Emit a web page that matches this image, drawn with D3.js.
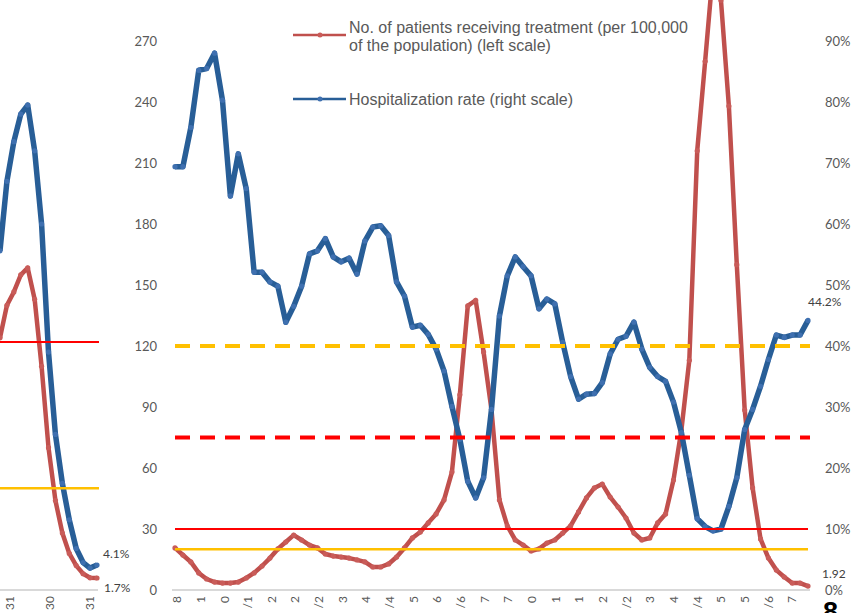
<!DOCTYPE html>
<html>
<head>
<meta charset="utf-8">
<script src="https://cdn.jsdelivr.net/npm/d3@7"></script>
<style>
  body { margin: 0; background: #fff; }
  svg { display: block; }
</style>
</head>
<body>
<svg></svg>
<script>
// chart data

// main period: no. of patients receiving treatment (per 100,000, left scale)
var patients = [20.7, 17.2, 13.8, 8.4, 5.4, 3.9, 3.4, 3.4, 3.9, 5.9,
      8.4, 11.8, 15.7, 20.2, 23.6, 27.0, 24.6, 22.1, 20.7, 17.7,
      16.7, 16.2, 15.7, 14.8, 13.8, 11.3, 11.3, 12.8, 16.2, 20.7,
      25.6, 28.5, 33.0, 37.4, 44.3, 58.0, 96.0, 139.7, 142.5, 117.0,
      88.5, 44.3, 31.5, 24.6, 22.1, 19.2, 20.2, 23.1, 24.6, 28.0,
      31.5, 38.4, 45.3, 50.2, 52.1, 45.7, 40.8, 35.4, 28.0, 24.6,
      25.6, 33.0, 37.4, 54.1, 78.7, 113.0, 216.0, 260.0, 305.0, 290.0,
      238.0, 160.0, 88.5, 50.2, 25.1, 15.7, 9.8, 6.4, 3.4, 3.4, 1.92];

// main period: hospitalization rate (%, right scale)
var hospRate = [69.4, 69.4, 75.8, 85.2, 85.5, 88.0, 80.3, 64.6, 71.5, 65.8,
      52.1, 52.1, 50.5, 49.8, 43.9, 46.5, 49.8, 55.1, 55.6, 57.6,
      54.6, 53.8, 54.4, 51.8, 57.2, 59.5, 59.7, 58.1, 50.5, 48.2,
      43.1, 43.4, 41.9, 39.5, 35.9, 30.1, 24.7, 17.8, 15.1, 18.4,
      29.6, 44.9, 51.5, 54.6, 53.0, 51.5, 46.1, 47.7, 46.9, 40.6,
      35.0, 31.3, 32.1, 32.2, 34.0, 38.7, 41.1, 41.6, 43.9, 39.5,
      36.5, 35.0, 34.2, 30.8, 25.8, 18.8, 11.7, 10.4, 9.7, 10.0,
      13.7, 18.4, 26.3, 29.6, 33.4, 37.8, 41.8, 41.4, 41.8, 41.8, 44.2];

// x tick labels (only the last characters are visible, the rest is cut off)
var xLabels = ["8", "1", "0", "/1", "2", "2", "/2", "3", "4", "/4", "5", "6", "/6", "7",
      "7", "0", "1", "1", "2", "/2", "3", "4", "/4", "5", "5", "/6", "7"];

// previous period, only its right end is visible on the left
var prevPatients = [124, 140, 146.6, 155, 158.4, 143, 110, 70, 44, 28, 18, 12, 8, 6, 5.9];
var prevHospRate = [55.6, 67, 73.5, 78, 79.5, 72, 60, 39, 25.5, 17.5, 11.5, 6.8, 4.5, 3.6, 4.1];
var prevLabels = ["31", "30", "31"];

// threshold lines (left scale units)
var mainSolid = [30, 20];      // red, yellow
var mainDashed = [120, 75];    // yellow, red
var prevSolid = [122, 50];     // red, yellow

var legendItems = [
      ["No. of patients receiving treatment (per 100,000", "of the population) (left scale)"],
      ["Hospitalization rate (right scale)"]
];

var width = 853;
var height = 613;
var font = "'Liberation Sans', Arial, sans-serif";
var tickFont = "Lato, 'Open Sans', sans-serif";
var redLine = "#c0504d", redDot = "#c95c59";
var blueLine = "#285e97", blueDot = "#3f70b0";

var svg = d3.select("svg")
      .attr("width", width)
      .attr("height", height);

var yLeft = d3.scaleLinear().domain([0, 270]).range([590, 41]);
var yRight = d3.scaleLinear().domain([0, 90]).range([590, 41]);
var x = d3.scaleLinear().domain([0, patients.length - 1]).range([175, 808]);
var xPrev = d3.scaleLinear().domain([0, prevPatients.length - 1]).range([0, 97]);
var xTick = d3.scalePoint().domain(d3.range(xLabels.length)).range([177, 792]);
var xPrevTick = d3.scalePoint().domain(d3.range(prevLabels.length)).range([10, 90]);

// baselines
svg.append("line").attr("x1", 0).attr("x2", 98)
      .attr("y1", yLeft(0)).attr("y2", yLeft(0))
      .attr("stroke", "#d9d9d9").attr("stroke-width", 2);
svg.append("line").attr("x1", 172).attr("x2", 810)
      .attr("y1", yLeft(0)).attr("y2", yLeft(0))
      .attr("stroke", "#d9d9d9").attr("stroke-width", 2);

// axes
var leftAxis = svg.append("g").attr("transform", "translate(160,0)")
      .call(d3.axisLeft(yLeft).tickValues(d3.range(0, 271, 30)).tickSize(0).tickPadding(3));
var rightAxis = svg.append("g").attr("transform", "translate(822,0)")
      .call(d3.axisRight(yRight).tickValues(d3.range(0, 91, 10)).tickSize(0).tickPadding(3)
            .tickFormat(d => d + "%"));
[leftAxis, rightAxis].forEach(function(g) {
      g.select(".domain").remove();
      g.selectAll("text")
            .style("font-family", tickFont)
            .style("font-size", "13px")
            .attr("fill", "#595959");
});

// rotated x labels, cut by the bottom of the picture
var drawXLabels = function(labels, scale) {
      svg.append("g").selectAll("text")
            .data(labels)
            .enter()
            .append("text")
                  .attr("transform", (d, i) => "translate(" + scale(i) + ",596) rotate(-90)")
                  .attr("dy", "0.35em")
                  .style("text-anchor", "end")
                  .style("font-family", tickFont)
                  .style("font-size", "12px")
                  .attr("fill", "#595959")
                  .text(d => d);
}
drawXLabels(xLabels, xTick);
drawXLabels(prevLabels, xPrevTick);

// series
var drawSeries = function(values, xs, ys, lineColor, dotColor, w) {
      var line = d3.line().x((d, i) => xs(i)).y(d => ys(d));
      svg.append("path")
            .datum(values)
            .attr("d", line)
            .attr("fill", "none")
            .attr("stroke", lineColor)
            .attr("stroke-width", w)
            .attr("stroke-linejoin", "round");
      svg.append("g")
            .selectAll("circle")
            .data(values)
            .enter()
            .append("circle")
                  .attr("r", 2.6)
                  .attr("cx", (d, i) => xs(i))
                  .attr("cy", d => ys(d))
                  .style("fill", dotColor);
}
drawSeries(prevPatients, xPrev, yLeft, redLine, redDot, 4.5);
drawSeries(prevHospRate, xPrev, yRight, blueLine, blueDot, 5.5);
drawSeries(patients, x, yLeft, redLine, redDot, 4.5);
drawSeries(hospRate, x, yRight, blueLine, blueDot, 5.5);

// threshold lines
var hLine = function(v, x1, x2, color, w, dash) {
      svg.append("line")
            .attr("x1", x1).attr("x2", x2)
            .attr("y1", yLeft(v)).attr("y2", yLeft(v))
            .attr("stroke", color)
            .attr("stroke-width", w)
            .attr("stroke-dasharray", dash);
}
hLine(mainDashed[0], 175, 810, "#ffc000", 4, "15,10");
hLine(mainDashed[1], 175, 810, "#ff0000", 4, "15,10");
hLine(mainSolid[0], 175, 808, "#ff0000", 2, null);
hLine(mainSolid[1], 175, 808, "#ffc000", 2.5, null);
hLine(prevSolid[0], 0, 99, "#ff0000", 2, null);
hLine(prevSolid[1], 0, 99, "#ffc000", 2.5, null);

// end value labels
var endLabel = function(txt, px, py) {
      svg.append("text")
            .attr("x", px).attr("y", py)
            .attr("dy", "0.35em")
            .style("font-family", tickFont)
            .style("font-size", "12px")
            .attr("fill", "#404040")
            .text(txt);
}
endLabel(d3.format(".1f")(hospRate[hospRate.length - 1]) + "%", 808, 302);
endLabel(d3.format(".2f")(patients[patients.length - 1]), 822, 574);
endLabel(d3.format(".1f")(prevHospRate[prevHospRate.length - 1]) + "%", 103, 554);
endLabel("1.7%", 104, 588);

// legend
var legend = svg.append("g");
var legendColors = [[redLine, redDot], [blueLine, blueDot]];
var legendY = [35, 99];
legendItems.forEach(function(lines, k) {
      legend.append("line")
            .attr("x1", 293).attr("x2", 346)
            .attr("y1", legendY[k]).attr("y2", legendY[k])
            .attr("stroke", legendColors[k][0])
            .attr("stroke-width", 2.5);
      legend.append("circle")
            .attr("cx", 320).attr("cy", legendY[k]).attr("r", 2.5)
            .style("fill", legendColors[k][1]);
      var t = legend.append("text")
            .attr("x", 349)
            .attr("y", lines.length > 1 ? legendY[k] - 8 : legendY[k])
            .style("font-family", font)
            .style("font-size", "16px")
            .attr("fill", "#595959");
      lines.forEach(function(s, j) {
            t.append("tspan").attr("x", 349).attr("dy", j === 0 ? "0.35em" : "18px").text(s);
      });
});

// page number, cut by the bottom edge
svg.append("text")
      .attr("x", 823).attr("y", 621)
      .style("font-family", font)
      .style("font-size", "27px")
      .style("font-weight", "bold")
      .attr("fill", "#000")
      .text("8");
</script>
</body>
</html>
